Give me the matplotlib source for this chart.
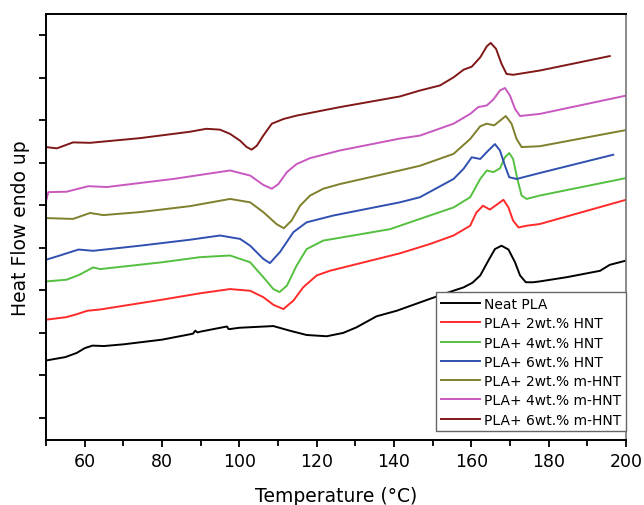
import numpy as np
import matplotlib
matplotlib.use('Agg')
import matplotlib.pyplot as plt

# 数据：温度 (°C) 与热流 (任意单位, endo up)
t_neat = [50, 55, 58, 60, 62, 65, 70, 80, 88, 88.6, 89.2, 90, 96.8, 97.2, 97.6, 100, 108.8, 113.1,
          117.4, 122.6, 126.9, 130.3, 135.5, 140.7, 149.3, 155, 158, 160.3, 162.3, 164.4, 166.1,
          167.8, 169.6, 171.3, 172.6, 174.1, 176, 177.7, 184.7, 193.3, 195.8, 200]
hf_neat = [1.87, 1.95, 2.05, 2.16, 2.22, 2.21, 2.25, 2.36, 2.50, 2.57, 2.53, 2.55, 2.67, 2.61, 2.61,
           2.64, 2.68, 2.57, 2.47, 2.44, 2.52, 2.65, 2.91, 3.04, 3.32, 3.50, 3.59, 3.70, 3.87, 4.22,
           4.49, 4.57, 4.48, 4.18, 3.87, 3.71, 3.71, 3.73, 3.83, 3.98, 4.12, 4.22]

t_h2 = [50, 55.3, 58, 60.7, 64, 80, 89.8, 97.6, 102.8, 106.2, 108.8, 111.4, 114, 116.5, 120, 123.4,
        141.5, 149.3, 155.4, 159.7, 161.3, 163, 164.8, 166.5, 168.3, 169.6, 170.8, 172.2, 174.3,
        177.7, 200]
hf_h2 = [2.83, 2.89, 2.96, 3.04, 3.07, 3.30, 3.45, 3.55, 3.51, 3.36, 3.18, 3.08, 3.28, 3.59, 3.87,
         3.98, 4.39, 4.61, 4.81, 5.04, 5.35, 5.51, 5.42, 5.53, 5.65, 5.47, 5.16, 5.00, 5.04, 5.08, 5.65]

t_h4 = [50, 55.3, 58.5, 62.2, 64, 80, 89.8, 97.6, 102.8, 106.2, 108.8, 110.4, 112.3, 114.8, 117.4,
        121.7, 139, 146.7, 155.4, 159.7, 162.3, 164, 165.7, 167.4, 168.7, 169.8, 170.8, 171.9, 173,
        174.3, 177.7, 200]
hf_h4 = [3.73, 3.77, 3.88, 4.06, 4.02, 4.18, 4.30, 4.34, 4.18, 3.83, 3.55, 3.48, 3.63, 4.10, 4.49,
         4.69, 4.96, 5.20, 5.47, 5.71, 6.14, 6.34, 6.30, 6.39, 6.65, 6.75, 6.61, 6.14, 5.75, 5.67,
         5.75, 6.16]

t_h6 = [50, 53.6, 58.4, 62.2, 74.3, 87.2, 95, 100.2, 102.8, 106.2, 107.9, 110.5, 114, 117.4, 124.3,
        141.5, 146.7, 155.4, 158, 160.1, 162.3, 164.4, 166.1, 167.4, 168.7, 169.8, 171.7, 177.7, 196.7]
hf_h6 = [4.24, 4.34, 4.48, 4.45, 4.57, 4.71, 4.81, 4.73, 4.57, 4.26, 4.16, 4.42, 4.89, 5.12, 5.28,
         5.59, 5.71, 6.14, 6.38, 6.65, 6.61, 6.81, 6.96, 6.81, 6.45, 6.18, 6.14, 6.28, 6.71]

t_m2 = [50, 57, 61.4, 64.8, 74.3, 87.2, 97.6, 102.8, 106.2, 109.6, 111.5, 113.5, 115.7, 118.3, 121.7,
        126, 141.5, 146.7, 155.4, 159.7, 162.3, 164, 165.9, 168.9, 170.4, 171.7, 173, 177.7, 200]
hf_m2 = [5.22, 5.20, 5.34, 5.29, 5.36, 5.50, 5.67, 5.59, 5.36, 5.08, 4.98, 5.16, 5.51, 5.75, 5.91,
         6.02, 6.34, 6.45, 6.73, 7.08, 7.38, 7.44, 7.40, 7.62, 7.44, 7.08, 6.89, 6.91, 7.29]

t_m4 = [50, 50.6, 55.3, 61, 65.7, 82.9, 97.6, 102.8, 106.2, 108.4, 110.1, 112.3, 114.8, 118.3, 126,
        141.5, 146.7, 155.4, 159.7, 161.8, 164, 165.7, 167.4, 168.7, 170, 171.3, 172.6, 177.7, 200]
hf_m4 = [5.62, 5.83, 5.84, 5.97, 5.95, 6.14, 6.34, 6.22, 6.00, 5.91, 6.02, 6.30, 6.49, 6.63, 6.81,
         7.09, 7.16, 7.44, 7.67, 7.83, 7.87, 8.01, 8.22, 8.28, 8.10, 7.79, 7.62, 7.67, 8.10]

t_m6 = [50, 52.8, 57, 61.4, 74.3, 87.2, 91.5, 95, 97.6, 100.2, 101.9, 103.2, 104.5, 106.2, 108.4,
        111.4, 114.8, 126, 141.5, 146.7, 151.9, 155.4, 158, 160.1, 162.3, 164, 165, 166.4, 167.8,
        169.1, 170.8, 177.7, 195.8]
hf_m6 = [6.89, 6.86, 7.00, 6.99, 7.10, 7.25, 7.32, 7.30, 7.20, 7.04, 6.89, 6.83, 6.92, 7.16, 7.44,
         7.55, 7.63, 7.83, 8.08, 8.22, 8.34, 8.53, 8.71, 8.78, 9.00, 9.26, 9.34, 9.20, 8.85, 8.61,
         8.59, 8.69, 9.03]

labels = ['Neat PLA', 'PLA+ 2wt.% HNT', 'PLA+ 4wt.% HNT', 'PLA+ 6wt.% HNT',
          'PLA+ 2wt.% m-HNT', 'PLA+ 4wt.% m-HNT', 'PLA+ 6wt.% m-HNT']
colors = ['#000000', '#ff2a2a', '#55c040', '#3050b0', '#7f7f2c', '#c858c0', '#801818']
series = [(t_neat, hf_neat), (t_h2, hf_h2), (t_h4, hf_h4), (t_h6, hf_h6),
          (t_m2, hf_m2), (t_m4, hf_m4), (t_m6, hf_m6)]

fig = plt.figure(figsize=(6.44, 5.06), dpi=100)
ax = fig.add_axes([46 / 644, 65 / 506, 580 / 644, 426 / 506])

for (t, hf), c, lab in zip(series, colors, labels):
    ax.plot(t, hf, color=c, lw=1.4, label=lab, solid_joinstyle='round')

ax.set_xlim(50, 200)
ax.set_ylim(0, 10.02)
ax.set_xticks(np.arange(60, 201, 20))
ax.set_xticks(np.arange(50, 201, 10), minor=True)
ax.set_yticks(np.arange(0.52, 10, 1.0))
ax.set_yticklabels([])
ax.tick_params(axis='both', which='both', direction='out', width=1.3, length=5, labelsize=12.5)
ax.tick_params(axis='x', which='minor', length=4)
for s in ['left', 'bottom', 'top']:
    ax.spines[s].set_linewidth(1.4)
ax.spines['right'].set_color('#777777')
ax.spines['right'].set_linewidth(1.2)

ax.set_xlabel('Temperature (°C)', fontsize=13.5, labelpad=12)
ax.set_ylabel('Heat Flow endo up', fontsize=13.5, labelpad=3)

leg = ax.legend(loc='lower right', bbox_to_anchor=(1.0, 0.02), borderaxespad=0, fontsize=10,
                fancybox=False, framealpha=1, edgecolor='#666666', handlelength=2.8,
                handletextpad=0.3, labelspacing=0.38, borderpad=0.35)
leg.get_frame().set_linewidth(1.0)

plt.savefig('out.png', dpi=100)
